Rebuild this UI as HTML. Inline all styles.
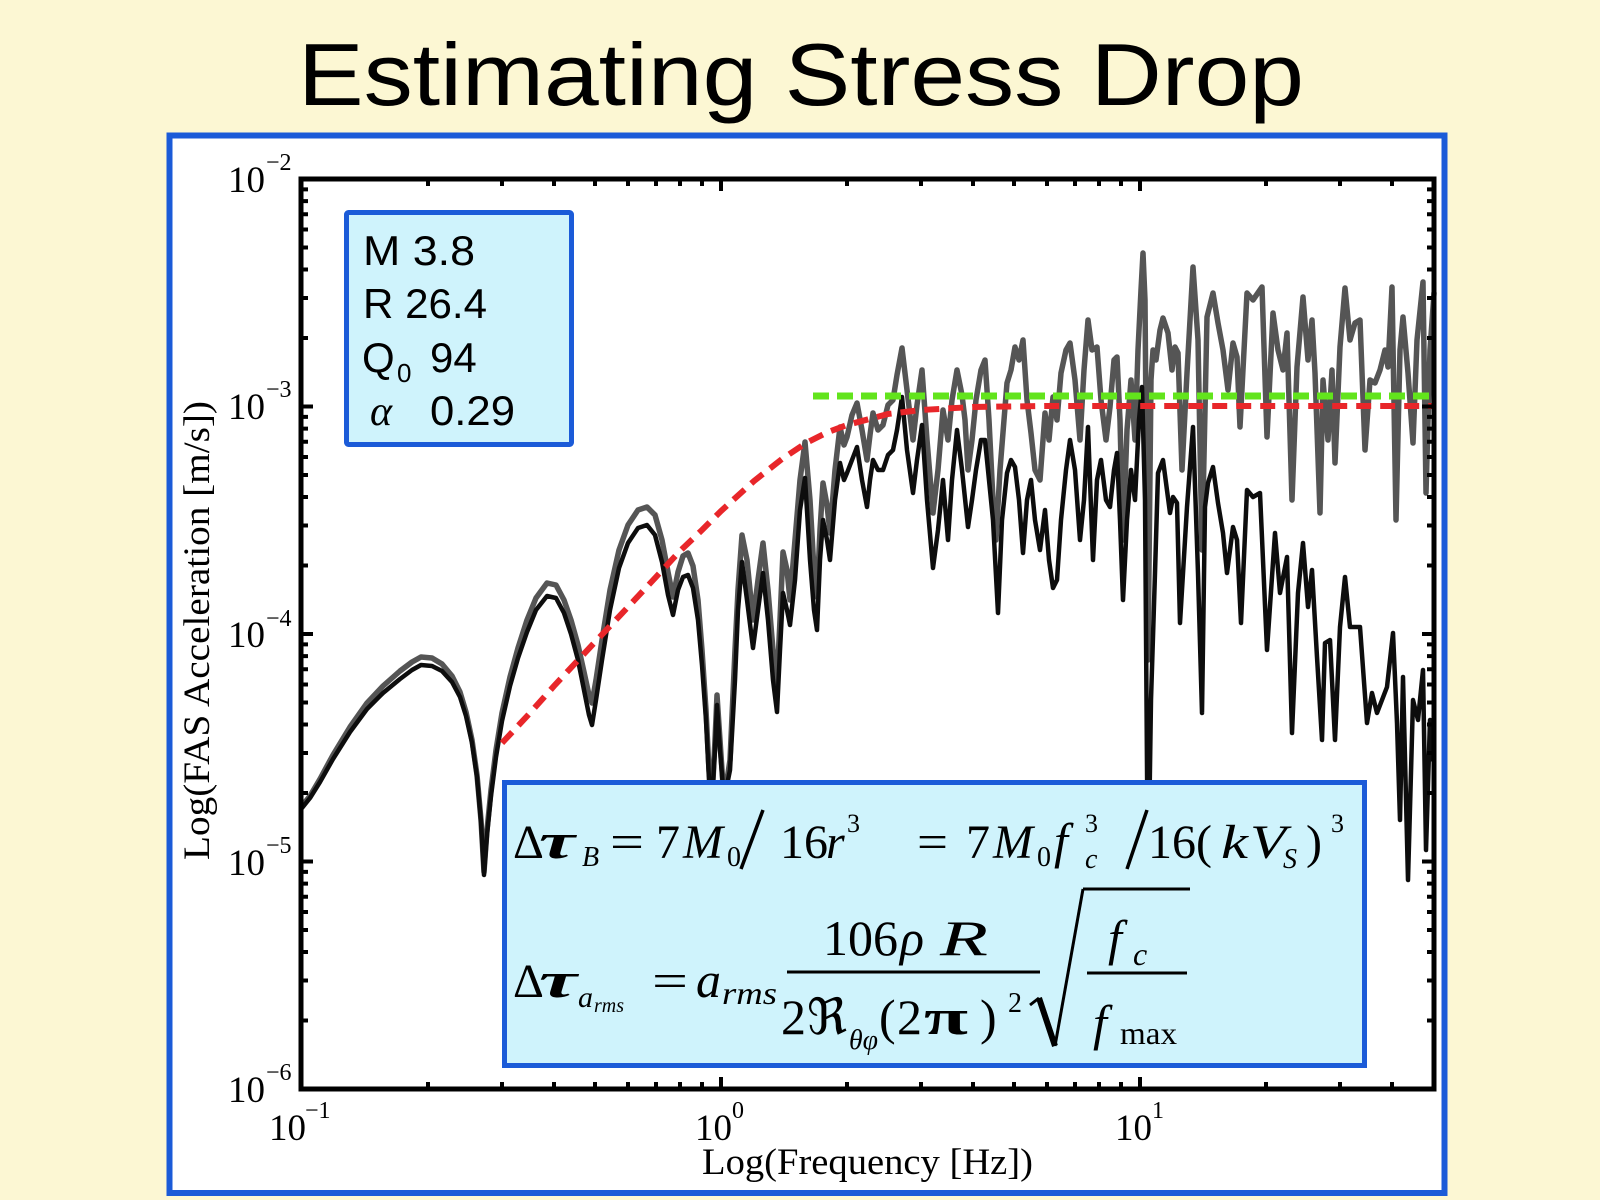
<!DOCTYPE html>
<html>
<head>
<meta charset="utf-8">
<style>
  html,body{margin:0;padding:0;background:#fcf7d3;}
  svg{display:block;}
</style>
</head>
<body>
<svg width="1600" height="1200" viewBox="0 0 1600 1200" xmlns="http://www.w3.org/2000/svg">
  <!-- background -->
  <rect x="0" y="0" width="1600" height="1200" fill="#fcf7d3"/>
  <!-- title -->
  <text x="298" y="105" font-family="Liberation Sans, sans-serif" font-size="88" textLength="1006" lengthAdjust="spacingAndGlyphs" fill="#000">Estimating Stress Drop</text>

  <!-- outer blue frame -->
  <rect x="169.5" y="135.5" width="1275" height="1057.5" fill="#ffffff" stroke="#1b5bd8" stroke-width="6"/>

  <!-- data series -->
  <g fill="none" stroke-linejoin="round" stroke-linecap="round">
    <polyline stroke="#555555" stroke-width="5.5" points="302,806 310,796 320,779 333,755 350,727 367,703 383,686 400,671 412,662 421,657 432,658 442,664 452,676 460,692 466,712 472,740 477,775 481,820 484,872 487,830 491,790 496,750 502,713 510,677 518,648 527,620 536,598 547,583 556,585 564,600 571,620 578,645 584,672 589,695 592,703 596,680 602,640 610,590 619,550 628,525 638,510 647,507 655,515 662,540 668,572 673,597 678,572 683,556 688,553 693,566 698,600 702,650 706,710 709,770 712,800 715,740 717,695 720,740 724,800 730,760 735,650 738,590 742,535 747,560 753,620 758,580 763,543 768,590 773,650 777,683 780,620 783,552 787,570 790,600 795,540 800,480 805,442 810,500 814,570 817,597 820,530 823,483 827,505 830,533 835,470 840,427 844,445 847,437 852,415 857,403 862,430 867,460 870,435 873,413 878,430 883,425 888,405 893,400 897,375 902,348 907,390 913,440 917,405 922,370 927,440 933,513 938,470 943,410 948,440 952,400 957,370 962,395 965,420 968,470 972,440 976,400 981,370 985,360 989,420 993,500 996,540 1000,470 1004,420 1007,383 1011,370 1015,347 1019,360 1023,340 1027,400 1031,433 1035,470 1040,480 1045,413 1049,440 1053,397 1057,420 1061,373 1066,350 1070,343 1075,380 1080,440 1084,370 1088,320 1092,350 1097,347 1101,400 1106,440 1110,407 1114,360 1117,357 1120,420 1123,540 1127,430 1131,380 1135,440 1138,350 1141,290 1143,253 1145,300 1148,660 1151,380 1153,350 1156,360 1160,330 1163,318 1168,333 1172,370 1175,347 1178,353 1182,470 1187,373 1193,267 1198,340 1202,550 1207,317 1213,293 1218,323 1223,350 1228,390 1233,343 1237,357 1240,427 1247,293 1253,300 1262,287 1267,437 1273,313 1278,350 1283,370 1287,333 1292,500 1297,367 1303,297 1308,360 1312,320 1315,373 1320,513 1323,380 1328,440 1332,370 1335,463 1340,347 1345,288 1350,340 1355,323 1360,320 1365,450 1370,380 1375,383 1380,370 1385,350 1388,367 1392,287 1396,520 1400,350 1403,317 1408,373 1413,443 1417,340 1423,282 1426,493 1430,350 1434,293"/>
    <polyline stroke="#0d0d0d" stroke-width="4.5" points="302,808 310,798 320,782 333,759 350,732 367,709 383,693 400,679 412,670 421,665 432,666 442,671 452,682 460,697 466,716 472,743 477,777 481,822 484,875 487,835 491,796 496,757 502,721 510,686 518,658 527,632 536,610 547,596 556,598 564,613 571,634 578,660 584,690 589,715 592,725 596,700 602,660 610,610 619,568 628,543 638,528 647,525 655,535 662,562 668,595 673,615 678,590 683,577 688,575 693,588 698,620 702,665 706,720 709,780 712,800 715,750 717,705 720,750 724,800 730,770 735,680 738,610 742,562 747,600 753,648 758,610 763,573 768,620 773,680 777,712 780,650 783,593 787,610 790,625 795,580 800,510 805,478 810,560 814,610 817,630 820,560 823,520 827,540 830,560 835,500 840,463 844,480 847,473 852,460 857,447 862,480 867,507 870,480 873,460 878,470 883,470 888,455 893,450 897,430 902,397 907,450 913,493 917,460 922,425 927,500 933,568 938,530 943,480 948,540 952,480 957,430 962,470 968,527 972,500 976,470 981,440 985,440 989,480 993,520 998,613 1002,520 1007,473 1011,460 1015,467 1019,500 1023,553 1027,500 1031,480 1035,520 1040,550 1045,510 1049,560 1053,588 1057,580 1061,520 1066,470 1070,440 1075,470 1080,540 1084,500 1088,427 1093,560 1097,480 1101,460 1106,500 1110,507 1114,470 1117,453 1120,520 1123,600 1127,520 1131,470 1135,500 1139,420 1142,387 1145,500 1148,900 1151,700 1155,573 1158,473 1163,460 1170,513 1173,497 1177,503 1180,623 1187,507 1193,427 1198,573 1202,713 1205,507 1208,483 1213,467 1218,503 1223,533 1227,573 1233,527 1237,540 1241,623 1247,490 1253,497 1260,493 1267,650 1275,533 1280,593 1287,557 1292,733 1298,593 1303,543 1308,607 1312,570 1317,657 1322,740 1325,643 1330,640 1335,740 1340,627 1345,577 1350,627 1360,627 1367,723 1372,693 1377,713 1387,687 1393,633 1397,723 1400,820 1403,677 1408,880 1413,700 1418,720 1423,670 1426,850 1430,720 1433,760"/>
  </g>

  <!-- model curves -->
  <path d="M502,743 L530,713 L554,686 L595,642 L628,607 L656,577 L680,551 L702,530 L721,511 L754,481 L782,459 L806,443 L828,432 L847,425 L888,414 L921,410 L973,407 L1047,406 L1433,406" fill="none" stroke="#e8262a" stroke-width="6" stroke-dasharray="15 9"/>
  <line x1="813" y1="396" x2="1433" y2="396" stroke="#62e41c" stroke-width="7" stroke-dasharray="16 8"/>

  <!-- axes box -->
  <rect x="301" y="179" width="1133" height="910" fill="none" stroke="#000" stroke-width="5"/>
  <!-- ticks -->
  <g stroke="#000" stroke-width="4" fill="none">
    <path d="M301,406.5h12 M301,634h12 M301,861.5h12"/>
    <path d="M1434,406.5h-12 M1434,634h-12 M1434,861.5h-12"/>
    <path d="M301,1020.5h7 M301,980.5h7 M301,952h7 M301,930h7 M301,912h7 M301,896.7h7 M301,883.6h7 M301,871.9h7
             M301,793h7 M301,753h7 M301,724.5h7 M301,702.5h7 M301,684.5h7 M301,669.2h7 M301,656.1h7 M301,644.4h7
             M301,565.5h7 M301,525.5h7 M301,497h7 M301,475h7 M301,457h7 M301,441.7h7 M301,428.6h7 M301,416.9h7
             M301,338h7 M301,298h7 M301,269.5h7 M301,247.5h7 M301,229.5h7 M301,214.2h7 M301,201.1h7 M301,189.4h7"/>
    <path d="M1434,1020.5h-7 M1434,980.5h-7 M1434,952h-7 M1434,930h-7 M1434,912h-7 M1434,896.7h-7 M1434,883.6h-7 M1434,871.9h-7
             M1434,793h-7 M1434,753h-7 M1434,724.5h-7 M1434,702.5h-7 M1434,684.5h-7 M1434,669.2h-7 M1434,656.1h-7 M1434,644.4h-7
             M1434,565.5h-7 M1434,525.5h-7 M1434,497h-7 M1434,475h-7 M1434,457h-7 M1434,441.7h-7 M1434,428.6h-7 M1434,416.9h-7
             M1434,338h-7 M1434,298h-7 M1434,269.5h-7 M1434,247.5h-7 M1434,229.5h-7 M1434,214.2h-7 M1434,201.1h-7 M1434,189.4h-7"/>
    <path d="M721,1089v-12 M1140,1089v-12
             M428,1089v-7 M502,1089v-7 M554,1089v-7 M595,1089v-7 M628,1089v-7 M656,1089v-7 M680,1089v-7 M702,1089v-7
             M847,1089v-7 M921,1089v-7 M973,1089v-7 M1014,1089v-7 M1047,1089v-7 M1075,1089v-7 M1099,1089v-7 M1121,1089v-7
             M1266,1089v-7 M1340,1089v-7 M1392,1089v-7"/>
    <path d="M721,179v12 M1140,179v12
             M428,179v7 M502,179v7 M554,179v7 M595,179v7 M628,179v7 M656,179v7 M680,179v7 M702,179v7
             M847,179v7 M921,179v7 M973,179v7 M1014,179v7 M1047,179v7 M1075,179v7 M1099,179v7 M1121,179v7
             M1266,179v7 M1340,179v7 M1392,179v7"/>
  </g>

  <!-- tick labels -->
  <g font-family="Liberation Serif, serif" fill="#000">
    <text x="228" y="192" font-size="37">10</text><text x="266" y="170" font-size="24">−2</text>
    <text x="228" y="419" font-size="37">10</text><text x="266" y="397" font-size="24">−3</text>
    <text x="228" y="647" font-size="37">10</text><text x="266" y="626" font-size="24">−4</text>
    <text x="228" y="875" font-size="37">10</text><text x="266" y="853" font-size="24">−5</text>
    <text x="228" y="1102" font-size="37">10</text><text x="266" y="1080" font-size="24">−6</text>

    <text x="269" y="1140" font-size="37">10</text><text x="305" y="1118" font-size="24">−1</text>
    <text x="695" y="1140" font-size="37">10</text><text x="732" y="1118" font-size="24">0</text>
    <text x="1115" y="1140" font-size="37">10</text><text x="1152" y="1118" font-size="24">1</text>

    <text x="702" y="1174" font-size="37" textLength="331" lengthAdjust="spacingAndGlyphs">Log(Frequency [Hz])</text>
    <text transform="translate(209,860) rotate(-90)" x="0" y="0" font-size="37" textLength="459" lengthAdjust="spacingAndGlyphs">Log(FAS Acceleration [m/s])</text>
  </g>

  <!-- parameter inset -->
  <rect x="346.5" y="212.5" width="225" height="232" rx="2" fill="#cff3fc" stroke="#1b5bd8" stroke-width="5"/>
  <g font-family="Liberation Sans, DejaVu Sans, sans-serif" font-size="42" fill="#000">
    <text x="363" y="265" textLength="112" lengthAdjust="spacingAndGlyphs">M 3.8</text>
    <text x="363" y="318" textLength="124" lengthAdjust="spacingAndGlyphs">R 26.4</text>
    <text x="362" y="372">Q</text>
    <text x="397" y="382" font-size="26">0</text>
    <text x="430" y="372">94</text>
    <text x="370" y="425" font-family="Liberation Serif, serif" font-style="italic">α</text>
    <text x="430" y="425" textLength="85" lengthAdjust="spacingAndGlyphs">0.29</text>
  </g>

  <!-- formula box -->
  <rect x="504.5" y="782.5" width="860" height="283" fill="#cff3fc" stroke="#1b5bd8" stroke-width="5"/>
  <g font-family="Liberation Serif, DejaVu Serif, serif" fill="#000" font-size="48">
    <!-- line 1 -->
    <text x="513" y="858">Δ</text>
    <text x="539" y="858" font-size="50" font-weight="bold" font-style="italic" textLength="36" lengthAdjust="spacingAndGlyphs">τ</text>
    <text x="582" y="866" font-size="28" font-style="italic">B</text>
    <text x="610" y="858" textLength="34" lengthAdjust="spacingAndGlyphs">=</text>
    <text x="656" y="858">7</text>
    <text x="683" y="858" font-style="italic">M</text>
    <text x="727" y="866" font-size="28">0</text>
    <text x="780" y="858">16</text>
    <text x="826" y="858" font-style="italic">r</text>
    <text x="847" y="832" font-size="26">3</text>
    <text x="917" y="858" textLength="31" lengthAdjust="spacingAndGlyphs">=</text>
    <text x="966" y="858">7</text>
    <text x="993" y="858" font-style="italic">M</text>
    <text x="1037" y="866" font-size="28">0</text>
    <text x="1054" y="858" font-size="50" font-style="italic">f</text>
    <text x="1085" y="832" font-size="26">3</text>
    <text x="1085" y="868" font-size="28" font-style="italic">c</text>
    <text x="1148" y="858">16(</text>
    <text x="1221" y="858" font-style="italic" textLength="27" lengthAdjust="spacingAndGlyphs">k</text>
    <text x="1250" y="858" font-style="italic" textLength="36" lengthAdjust="spacingAndGlyphs">V</text>
    <text x="1283" y="868" font-size="28" font-style="italic">S</text>
    <text x="1306" y="858">)</text>
    <text x="1331" y="832" font-size="26">3</text>

    <!-- line 2 -->
    <text x="513" y="997">Δ</text>
    <text x="539" y="997" font-size="50" font-weight="bold" font-style="italic" textLength="38" lengthAdjust="spacingAndGlyphs">τ</text>
    <text x="578" y="1007" font-size="30" font-style="italic">a</text>
    <text x="594" y="1012" font-size="20" font-style="italic">rms</text>
    <text x="652" y="997" textLength="36" lengthAdjust="spacingAndGlyphs">=</text>
    <text x="696" y="997" font-size="50" font-style="italic">a</text>
    <text x="722" y="1004" font-size="32" font-style="italic" textLength="55" lengthAdjust="spacingAndGlyphs">rms</text>

    <text x="823" y="955" font-size="50">106</text>
    <text x="900" y="955" font-size="50" font-style="italic">ρ</text>
    <text x="940" y="955" font-size="50" font-style="italic" textLength="48" lengthAdjust="spacingAndGlyphs">R</text>

    <text x="781" y="1034" font-size="50">2</text>
    <text x="807" y="1034" font-size="50" textLength="40" lengthAdjust="spacingAndGlyphs">ℜ</text>
    <text x="849" y="1049" font-size="28" font-style="italic" textLength="29" lengthAdjust="spacingAndGlyphs">θφ</text>
    <text x="879" y="1034" font-size="50">(</text>
    <text x="897" y="1034" font-size="50">2</text>
    <text x="924" y="1034" font-size="50" font-weight="bold" textLength="44" lengthAdjust="spacingAndGlyphs">π</text>
    <text x="980" y="1034" font-size="50">)</text>
    <text x="1008" y="1012" font-size="28">2</text>

    <text x="1108" y="955" font-size="50" font-style="italic">f</text>
    <text x="1133" y="965" font-size="32" font-style="italic">c</text>
    <text x="1093" y="1040" font-size="50" font-style="italic">f</text>
    <text x="1120" y="1044" font-size="32" textLength="57" lengthAdjust="spacingAndGlyphs">max</text>
  </g>
  <g stroke="#000" fill="none">
    <line x1="763" y1="810" x2="741" y2="869" stroke-width="3.5"/>
    <line x1="1147" y1="810" x2="1127" y2="869" stroke-width="3.5"/>
    <line x1="787" y1="972" x2="1040" y2="972" stroke-width="3"/>
    <line x1="1087" y1="973" x2="1187" y2="973" stroke-width="3"/>
    <line x1="1030" y1="1005" x2="1039" y2="998" stroke-width="3"/>
    <line x1="1039" y1="998" x2="1055" y2="1046" stroke-width="6"/>
    <line x1="1055" y1="1046" x2="1083" y2="889" stroke-width="3"/>
    <line x1="1083" y1="889" x2="1190" y2="889" stroke-width="3"/>
  </g>
</svg>
</body>
</html>
